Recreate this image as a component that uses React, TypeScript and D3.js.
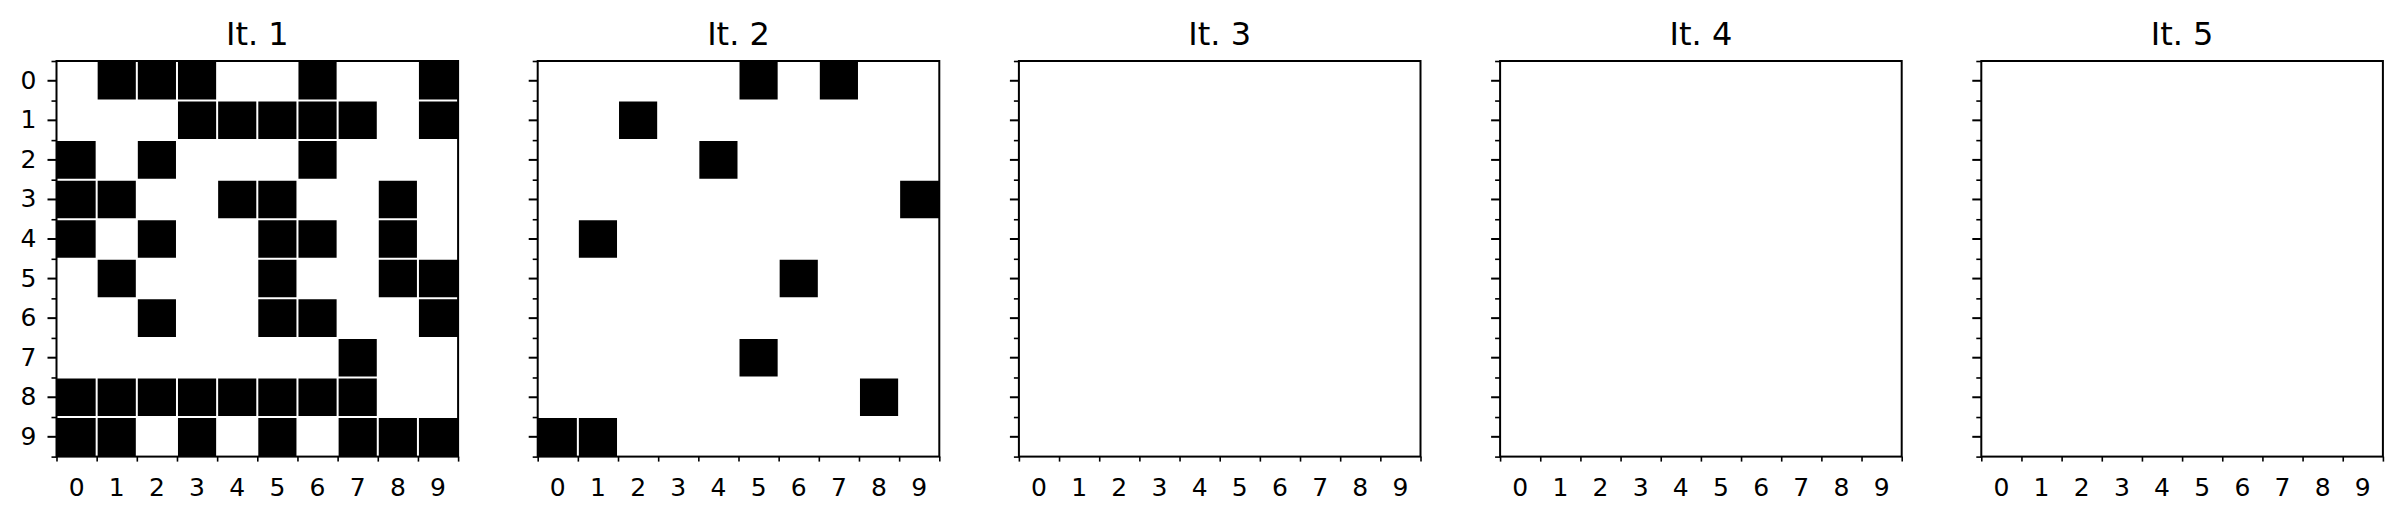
import { useEffect, useRef } from "react";
import * as d3 from "d3";

const width = 2402;
const height = 530;
const margin = { top: 61, left: 56.5 };
const panelW = 401.6;
const panelH = 395.6;
const panelStep = 481.2;

// Tick labels (rows and columns of the grid)
const labels = ["0", "1", "2", "3", "4", "5", "6", "7", "8", "9"];

// Panel titles
const titles = ["It. 1", "It. 2", "It. 3", "It. 4", "It. 5"];

// Filled (black) columns per row, one list per iteration
const it1Cells: number[][] = [
  [1, 2, 3, 6, 9],
  [3, 4, 5, 6, 7, 9],
  [0, 2, 6],
  [0, 1, 4, 5, 8],
  [0, 2, 5, 6, 8],
  [1, 5, 8, 9],
  [2, 5, 6, 9],
  [7],
  [0, 1, 2, 3, 4, 5, 6, 7],
  [0, 1, 3, 5, 7, 8, 9],
];
const it2Cells: number[][] = [[5, 7], [2], [4], [9], [1], [6], [], [5], [8], [0, 1]];
const it3Cells: number[][] = [[], [], [], [], [], [], [], [], [], []];
const it4Cells: number[][] = [[], [], [], [], [], [], [], [], [], []];
const it5Cells: number[][] = [[], [], [], [], [], [], [], [], [], []];

const iterations = [it1Cells, it2Cells, it3Cells, it4Cells, it5Cells];

type PanelProps = {
  title: string;
  cells: number[][];
  offsetX: number;
  showYLabels: boolean;
};

const Panel = ({ title, cells, offsetX, showYLabels }: PanelProps) => {
  const xMajorRef = useRef<SVGGElement>(null);
  const xMinorRef = useRef<SVGGElement>(null);
  const yMajorRef = useRef<SVGGElement>(null);
  const yMinorRef = useRef<SVGGElement>(null);

  const xBand = d3.scaleBand<string>().domain(labels).range([0, panelW]);
  const yBand = d3.scaleBand<string>().domain(labels).range([0, panelH]);
  const xEdge = d3.scaleLinear().domain([0, labels.length]).range([0, panelW]);
  const yEdge = d3.scaleLinear().domain([0, labels.length]).range([0, panelH]);
  const edges = d3.range(labels.length + 1);

  useEffect(() => {
    const style = (g: d3.Selection<SVGGElement, unknown, null, undefined>, w: number) => {
      g.select(".domain").remove();
      g.selectAll("line").attr("stroke", "#000").attr("stroke-width", w);
      g.selectAll("text")
        .attr("fill", "#000")
        .style("font-family", "'DejaVu Sans', sans-serif")
        .style("font-size", "25px");
    };
    if (xMajorRef.current) {
      const g = d3.select(xMajorRef.current);
      g.call(d3.axisBottom(xBand).tickSize(0).tickPadding(22));
      style(g, 2);
    }
    if (xMinorRef.current) {
      const g = d3.select(xMinorRef.current);
      g.call(d3.axisBottom(xEdge).tickValues(edges).tickSize(5).tickFormat(() => ""));
      style(g, 1.6);
    }
    if (yMajorRef.current) {
      const g = d3.select(yMajorRef.current);
      g.call(
        d3
          .axisLeft(yBand)
          .tickSize(9)
          .tickPadding(11)
          .tickFormat((d) => (showYLabels ? d : ""))
      );
      style(g, 2);
    }
    if (yMinorRef.current) {
      const g = d3.select(yMinorRef.current);
      g.call(d3.axisLeft(yEdge).tickValues(edges).tickSize(5).tickFormat(() => ""));
      style(g, 1.6);
    }
  }, [showYLabels]);

  return (
    <g transform={`translate(${offsetX}, ${margin.top})`}>
      <text
        x={panelW / 2}
        y={-16}
        textAnchor="middle"
        fontFamily="'DejaVu Sans', sans-serif"
        fontSize={32}
        fill="#000"
      >
        {title}
      </text>
      <rect x={0} y={0} width={panelW} height={panelH} fill="#fff" />
      {cells.map((cols, r) =>
        cols.map((c) => (
          <rect
            key={`${r}-${c}`}
            x={xBand(labels[c])}
            y={yBand(labels[r])}
            width={xBand.bandwidth()}
            height={yBand.bandwidth()}
            fill="#000"
          />
        ))
      )}
      {/* white grid at cell edges */}
      {edges.slice(1, -1).map((e) => (
        <g key={`grid-${e}`}>
          <line x1={xEdge(e)} x2={xEdge(e)} y1={0} y2={panelH} stroke="#fff" strokeWidth={2} />
          <line x1={0} x2={panelW} y1={yEdge(e)} y2={yEdge(e)} stroke="#fff" strokeWidth={2} />
        </g>
      ))}
      <rect x={0} y={0} width={panelW} height={panelH} fill="none" stroke="#000" strokeWidth={2} />
      <g ref={xMajorRef} transform={`translate(0, ${panelH})`} />
      <g ref={xMinorRef} transform={`translate(0, ${panelH})`} />
      <g ref={yMajorRef} />
      <g ref={yMinorRef} />
    </g>
  );
};

const App = () => {
  return (
    <svg
      width={width}
      height={height}
      style={{ position: "absolute", left: 0, top: 0, display: "block", background: "#fff" }}
    >
      <rect width={width} height={height} fill="#fff" />
      {iterations.map((cells, i) => (
        <Panel
          key={titles[i]}
          title={titles[i]}
          cells={cells}
          offsetX={margin.left + i * panelStep}
          showYLabels={i === 0}
        />
      ))}
    </svg>
  );
};

export default App;
